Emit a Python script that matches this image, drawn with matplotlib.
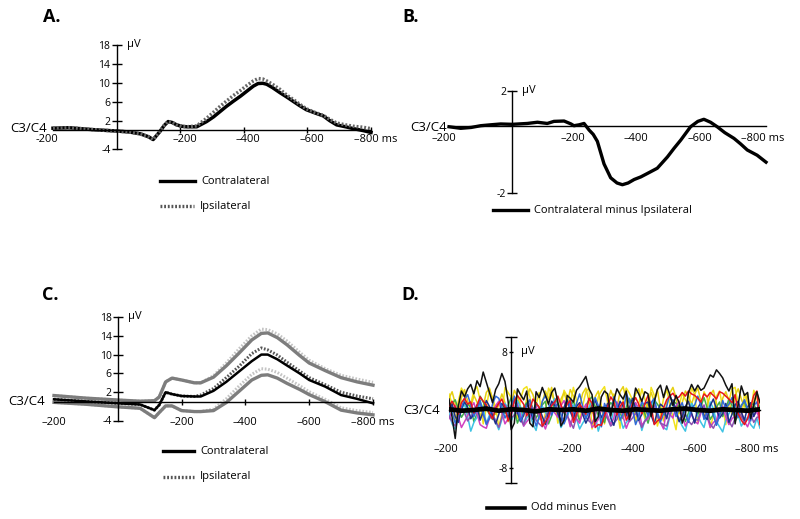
import numpy as np
import matplotlib
matplotlib.use('Agg')
import matplotlib.pyplot as plt
from matplotlib.lines import Line2D

plt.rcParams['font.family'] = ['Open Sans', 'DejaVu Sans']

# ---------------- data ----------------
# Panel A: grand averages at C3/C4 (uV)
tA = [-200, -150, -75, 0, 40, 75, 100, 115, 135, 150, 162, 175, 189, 205, 220, 252, 283, 305, 325, 345,
      367, 390, 409, 430, 445, 460, 472, 490, 514, 535, 555, 575, 597, 625, 650, 670, 692, 720, 745, 775, 800]
contra_A = [0.4, 0.5, 0.1, -0.2, -0.4, -0.8, -1.4, -2.0, -0.4, 1.0, 1.8, 1.6, 1.1, 0.8, 0.7, 0.7, 1.8, 2.8, 3.9, 5.0,
            6.1, 7.2, 8.2, 9.3, 9.85, 9.9, 9.7, 9.0, 7.9, 7.0, 6.1, 5.2, 4.3, 3.6, 3.0, 2.0, 1.1, 0.7, 0.3, -0.1, -0.5]
ipsi_A = [0.4, 0.5, 0.1, -0.2, -0.4, -0.8, -1.4, -2.0, -0.4, 1.0, 1.8, 1.6, 1.1, 0.8, 0.7, 0.9, 2.5, 3.8, 5.0, 6.1,
          7.3, 8.4, 9.4, 10.4, 10.9, 10.8, 10.4, 9.7, 8.6, 7.4, 6.5, 5.5, 4.5, 3.7, 3.1, 2.3, 1.5, 1.1, 0.8, 0.6, 0.3]

# Panel B: contralateral minus ipsilateral
tB = [-200, -163, -130, -100, -70, -37, 0, 47, 79, 110, 131, 163, 185, 194, 210, 226, 242, 255, 268, 289, 310,
      330, 347, 365, 384, 405, 426, 457, 489, 510, 531, 562, 585, 604, 625, 646, 670, 699, 720, 741, 772, 800]
diff_B = [-0.06, -0.15, -0.1, 0.0, 0.05, 0.1, 0.08, 0.13, 0.2, 0.13, 0.25, 0.27, 0.1, 0.0, 0.05, 0.13, -0.25, -0.5,
          -0.9, -2.2, -3.0, -3.3, -3.4, -3.3, -3.1, -2.95, -2.75, -2.45, -1.8, -1.3, -0.83, -0.06, 0.25, 0.37, 0.2,
          -0.06, -0.4, -0.73, -1.05, -1.4, -1.7, -2.1]

# Panel C: averages with confidence bounds
tC = [-200, -100, 0, 70, 115, 130, 150, 170, 200, 240, 260, 300, 340, 380, 420, 450, 470, 500, 530, 570, 600,
      650, 700, 750, 800]
contra_C = [0.5, 0.05, -0.35, -0.6, -1.8, -0.7, 2.0, 1.6, 1.2, 1.1, 1.1, 2.3, 4.2, 6.4, 8.6, 10.0, 10.0, 9.0, 7.7,
            6.0, 4.6, 3.2, 1.4, 0.6, -0.35]
ipsi_C = [0.5, 0.05, -0.35, -0.6, -1.8, -0.7, 2.0, 1.6, 1.2, 1.1, 1.4, 2.8, 5.1, 7.5, 10.2, 11.4, 11.0, 9.9, 8.4,
          6.5, 5.1, 3.6, 2.0, 1.2, 0.6]
contra_hi = [1.3, 0.75, 0.35, 0.1, 0.2, 1.0, 4.2, 5.0, 4.6, 4.0, 4.0, 5.2, 7.6, 10.3, 13.1, 14.5, 14.6, 13.6, 12.1,
             9.8, 8.2, 6.6, 5.1, 4.2, 3.5]
contra_lo = [-0.15, -0.55, -1.1, -1.4, -3.4, -2.3, -0.9, -0.9, -1.9, -2.1, -2.1, -1.9, -0.2, 2.2, 4.6, 5.6, 5.7,
             5.0, 3.9, 2.6, 1.5, 0.0, -1.8, -2.4, -2.8]
ipsi_hi = [1.3, 0.75, 0.35, 0.1, 0.2, 1.0, 4.2, 5.0, 4.6, 4.0, 4.0, 5.5, 8.2, 11.2, 14.0, 15.4, 15.3, 14.4, 12.9,
           10.5, 8.8, 7.0, 5.6, 4.8, 4.1]
ipsi_lo = [-0.15, -0.55, -1.1, -1.4, -3.4, -2.3, -0.9, -0.9, -1.9, -2.1, -2.1, -1.6, 0.6, 3.3, 5.8, 7.0, 6.9, 6.2,
           5.0, 3.4, 2.1, 0.5, -1.3, -1.9, -2.3]

# Panel D: odd minus even, single subjects (sampled every 10 ms, -200..800)
tD = np.arange(-200, 801, 10)
subj_black = [1.5, -1.0, -3.9, 0.5, 2.6, 1.8, 2.9, 3.5, 2.2, 4.0,
              3.2, 5.2, 3.8, 2.4, 1.0, 2.8, 3.6, 5.0, 3.9, 1.2,
              -2.7, -1.8, 2.9, 2.1, 1.4, 2.6, -1.8, -2.3, 2.5, 1.7,
              3.1, 2.0, 0.8, 2.4, 3.0, 1.1, -2.2, -1.4, 2.0, 1.6,
              1.1, 2.7, 3.2, 3.9, 4.6, 2.9, 2.1, -1.6, -0.9, 1.8,
              2.6, 2.2, -0.8, 1.3, 2.9, 2.1, 1.5, 2.6, -1.3, 0.4,
              3.0, 2.2, 1.2, 2.5, 2.2, -0.9, 1.1, 2.8, 3.4, 1.7,
              3.3, 2.1, 0.6, 2.0, 1.0, -1.8, -0.6, 2.4, 3.5, 2.6,
              3.4, 2.7, 3.0, 3.9, 4.8, 4.5, 5.5, 5.0, 4.4, 3.4,
              2.6, 3.6, -1.9, 0.8, 3.3, 2.0, 2.4, -1.2, 0.7, 2.5,
              1.0]
subj_yellow = [2.2, 0.8, -1.5, 1.2, 3.0, 2.1, -0.8, 0.9, 2.6, 3.2,
               1.4, -1.9, 0.3, 2.8, 1.6, 0.4, -2.3, -0.6, 3.1, 2.4,
               1.7, 0.2, -1.2, 1.5, 2.9, 3.2, 1.8, -0.6, 0.7, 2.4,
               -2.1, -0.4, 3.0, 2.2, 1.2, -1.8, 0.5, 2.7, 1.9, 0.9,
               3.1, 1.3, -1.4, 0.6, 2.5, 3.0, -2.6, -0.9, 1.8, 2.6,
               3.2, 1.1, -0.9, 2.2, 0.4, -2.5, 1.3, 3.0, 2.3, 1.4,
               -1.7, 0.8, 2.9, 1.5, -0.3, 3.1, 2.0, -2.2, -0.7, 1.6,
               2.8, 0.9, -1.0, -2.7, 0.6, 2.3, 1.4, 0.8, 3.0, 2.1,
               -1.6, 0.4, 2.5, 1.7, -2.4, -0.8, 1.9, 2.6, 0.3, -2.0,
               1.2, 2.9, 3.1, 0.7, -1.3, 2.2, 1.0, -0.5, 2.7, 1.8,
               -2.0]
subj_gold = [1.6, 2.5, 0.9, -0.8, 1.7, 2.8, 1.2, 0.3, 2.0, 1.1,
             -1.0, 0.5, 2.4, 3.0, 1.5, -0.6, 0.8, 2.2, 1.0, -1.6,
             0.6, 2.7, 1.9, 0.4, -0.9, 1.6, 2.9, 2.1, 0.5, -1.3,
             1.1, 2.6, 1.4, 3.1, 0.7, -1.1, 1.5, 2.4, 0.9, 2.8,
             1.9, -0.7, 0.6, 2.3, 3.0, 1.2, -0.4, 1.8, 2.6, 0.5,
             -1.9, 1.0, 2.7, 1.6, 0.3, 2.5, 3.2, 1.4, -0.8, 0.9,
             2.2, 2.9, 0.6, -1.2, 1.3, 2.4, 1.1, 2.8, 0.2, -1.5,
             0.9, 2.3, 3.1, 1.7, -0.5, 1.0, 2.6, 1.9, 0.8, 2.2,
             3.0, 1.2, -1.1, 0.5, 2.1, 2.7, 0.9, -0.9, 1.6, 2.5,
             1.3, -0.6, 2.0, 2.9, 1.5, 0.4, 2.3, -1.0, 1.2, 2.4,
             0.8]
subj_red = [0.5, 1.2, 0.4, -0.6, 1.0, 1.6, 0.8, 1.1, -0.4, 0.6,
            1.8, 1.2, 0.7, -0.5, -1.2, 0.2, 0.9, 1.5, 0.3, -1.5,
            -0.4, 1.2, 2.0, 1.4, 0.8, -0.8, 0.1, 1.5, 0.9, 0.4,
            -2.2, -1.6, -0.9, 0.6, 1.1, 1.9, 0.7, -0.3, 0.8, 1.3,
            -1.7, -0.5, 0.8, 0.2, -0.6, 1.6, 0.9, -2.4, -2.0, -2.1,
            -0.8, 0.4, 1.8, 1.1, -0.7, 0.5, 1.1, -1.4, -0.6, 0.9,
            1.7, 0.8, -0.5, 0.9, 2.0, 0.6, -2.0, -1.5, -1.2, 0.3,
            1.4, 1.9, 2.3, 1.6, 1.8, 2.4, 1.9, 2.6, 2.2, 2.0,
            1.6, 1.1, 2.2, 1.8, 2.4, 2.0, 1.5, 2.5, 2.3, 1.9,
            1.5, 1.0, 2.1, -0.5, -1.4, -2.0, -1.2, 0.4, 2.0, 2.6,
            -2.0]
subj_blue = [1.0, -0.3, -1.8, -0.6, 0.4, 1.5, 2.1, 0.7, -0.9, 0.2,
             1.3, -0.5, -2.0, -1.1, 0.8, 1.9, 1.6, 0.3, -1.1, -0.2,
             0.2, 1.9, 0.6, -1.5, -0.4, 0.6, 1.4, -0.8, -2.2, -0.9,
             1.2, 2.0, 0.9, -0.7, 0.3, 0.9, -0.6, -1.9, -0.8, 1.5,
             -0.4, 0.9, 2.2, 0.5, -1.2, -0.2, 0.3, 1.7, 0.6, -2.3,
             0.9, -0.1, -0.6, 1.8, 0.7, -1.4, -0.5, 2.3, 1.1, 0.1,
             -2.0, -0.9, 1.2, 0.4, -0.8, 1.0, 1.6, -0.3, -1.6, -0.5,
             0.5, 2.1, 0.8, -0.9, 0.2, 1.0, -0.6, -1.7, 0.3, 0.7,
             1.9, 0.6, -1.3, -0.2, 0.4, -0.7, -2.1, -0.8, 1.3, 0.2,
             0.8, 1.7, -0.4, -1.0, 0.5, 1.4, 0.2, -1.5, 0.6, 1.1,
             -1.0]
subj_navy = [-0.3, 0.8, -0.9, -1.7, 0.2, 1.1, 0.4, -1.2, -0.5, 0.7,
             -1.4, -0.2, 1.3, 0.5, -0.8, -1.9, -0.6, 0.9, 0.2, -1.1,
             0.6, 1.5, -0.3, -1.6, -0.7, 0.8, 0.1, -1.3, 1.0, 0.3,
             -0.9, -2.0, -0.4, 1.2, 0.6, -0.5, -1.5, 0.4, 1.4, -0.2,
             -1.3, 0.5, 1.0, -0.6, -1.8, -0.9, 0.7, 1.3, 0.2, -1.0,
             -0.4, 0.9, -1.1, -2.1, -0.3, 1.2, 0.5, -0.8, 0.3, 1.6,
             0.2, -1.4, -0.6, 0.9, 1.1, -0.7, -1.9, -0.2, 0.8, 0.4,
             -1.2, 0.6, 1.4, -0.1, -1.6, -0.9, 0.5, 1.2, -0.4, -1.8,
             0.3, 1.0, -0.8, -1.3, 0.6, 1.5, 0.1, -1.1, -0.5, 0.9,
             -1.7, -0.6, 0.7, 1.2, -0.3, -1.4, 0.4, 1.0, -0.9, 0.2,
             -0.6]
subj_cyan = [-0.5, -1.9, -2.6, -1.2, 0.1, 0.8, -0.9, -2.9, -1.7, -1.0,
             1.1, 0.2, -1.8, -0.7, -0.4, -1.6, -2.7, -1.3, 0.9, 0.3,
             -1.5, -0.6, 1.3, 0.4, -2.2, -1.1, -0.6, -1.9, -2.8, -0.8,
             0.5, -0.3, -1.4, 0.7, 1.6, -0.5, -2.4, -1.6, -0.9, 0.2,
             0.7, -1.2, -2.6, -1.8, -1.1, 0.4, 1.2, -0.6, -2.9, -1.5,
             -0.3, -0.9, -1.9, 0.1, 0.8, -1.0, -2.5, -1.7, -1.2, 0.3,
             1.0, -0.8, -2.8, -1.4, -0.7, 0.6, 1.4, -0.5, -1.8, -2.4,
             -2.7, -0.9, 0.3, -0.6, -1.3, -2.2, -2.9, -1.1, 0.9, 0.1,
             -0.8, -1.7, -2.4, -0.6, 1.1, 0.2, -1.6, -2.3, -3.0, -1.4,
             -0.5, 0.3, 0.8, -0.7, -2.2, -1.5, -1.0, -2.0, -2.5, -1.1,
             -2.5]
subj_magenta = [-1.2, -0.2, 0.6, -1.0, -2.4, -1.6, -0.8, 0.3, 1.0, -0.5,
                -2.0, -2.3, -2.5, -1.1, -0.3, 0.6, 1.2, -0.4, -1.9, -1.2,
                -0.7, 0.4, 0.9, -0.8, -2.2, -1.6, -1.1, 0.1, 0.5, -0.9,
                -1.6, -2.6, -1.3, 0.2, -0.4, -1.0, 0.6, 1.3, -0.5, -2.3,
                -0.5, -1.2, -1.8, -0.2, 0.8, -0.6, -2.4, -1.9, -1.3, 0.1,
                0.4, -0.8, -2.0, -1.1, 1.1, 0.3, -0.9, -2.5, -1.4, -0.2,
                1.0, 0.2, -2.1, -1.5, -1.2, -0.1, 0.6, -0.9, -1.7, -2.6,
                0.3, -0.6, -1.1, 0.5, 1.2, -0.8, -2.2, -1.3, -0.6, -1.5,
                -1.9, -0.4, 0.7, -0.9, -2.4, -1.7, -1.4, 0.2, 0.5, -1.0,
                -2.0, -1.2, -0.8, 0.4, -0.3, -1.6, -2.3, -1.1, -0.8, -0.2,
                -1.6]
subj_purple = [-0.8, -1.6, -2.2, -0.7, 0.5, -0.4, -1.5, -0.9, -0.2, 0.4,
               1.0, -0.6, -1.8, -1.2, -0.6, -1.5, -2.4, -1.0, 0.7, 0.1,
               -1.1, -0.7, -0.3, -1.4, -2.0, -0.5, 0.9, 0.2, -1.4, -1.9,
               -2.3, -1.0, -0.1, 0.6, 1.2, -0.4, -1.7, -1.1, -0.8, -1.6,
               -2.5, -0.9, 0.4, -0.3, -1.0, -1.5, -1.9, -0.7, 0.6, 0.1,
               -0.5, -1.2, -2.2, -1.8, -1.3, 0.0, 0.8, -0.4, -1.6, -1.1,
               -0.4, -1.4, -2.4, -1.5, -0.9, 0.1, 0.5, -0.8, -1.8, -2.0,
               -2.2, -0.7, 0.3, -0.5, -1.2, -0.9, -0.6, -1.5, -2.0, -1.3,
               -1.4, -0.2, 0.6, -0.8, -1.9, -2.5, -1.6, -0.7, 0.4, -0.3,
               -1.5, -2.3, -1.1, -0.2, -0.9, -1.7, -1.2, -0.6, -1.7, -1.0,
               -0.9]
subj_green = [0.3, 0.9, 1.4, 0.1, -1.0, -0.3, 0.8, 0.4, -1.6, -0.5,
              1.9, 1.1, 0.2, -0.6, -1.3, 0.1, 1.1, 0.4, -0.5, 0.6,
              1.7, 0.2, -1.8, -0.7, 0.4, 1.0, 1.3, 0.2, -1.1, -0.3,
              0.7, 1.2, -1.9, -0.8, 1.5, 0.9, 0.1, -0.4, -0.9, 0.5,
              1.2, -0.1, -1.5, -0.4, 0.6, 1.4, 1.8, 0.5, -0.7, -1.2,
              -1.7, 0.2, 1.0, 0.6, 0.3, -0.5, -1.2, 0.4, 1.6, 0.7,
              -0.4, 0.3, 0.8, -0.6, -1.8, -0.2, 1.4, 0.8, 0.2, -0.5,
              -1.0, 0.4, 1.3, 0.9, 0.5, -0.3, -1.6, -0.4, 0.9, 0.2,
              -0.6, 0.5, 1.7, 0.3, -1.3, -0.6, 0.4, 1.1, -0.9, 0.2,
              1.5, 0.6, -1.5, -0.8, 0.7, 1.1, -0.3, 0.6, 0.9, -0.3,
              0.6]
tD_mean = np.linspace(-200, 800, 26)
odd_even_mean = [0.1, -0.1, 0.0, 0.2, -0.1, 0.1, 0.0, -0.2, 0.1, 0.0, 0.1, -0.1, 0.2, 0.0, -0.1, 0.1, 0.0, -0.1,
                 0.1, 0.2, 0.0, -0.1, 0.1, 0.0, -0.1, 0.1]

W, H = 800, 519
fig = plt.figure(figsize=(8, 5.19), dpi=100)
PT = 0.72  # points per pixel at dpi 100


def rect(x0, x1, y0, y1):
    return [x0 / W, 1 - y1 / H, (x1 - x0) / W, (y1 - y0) / H]


def setup(ax, ylim, yticks, ylabels, xtick_len):
    ax.set_xlim(-200, 800)
    ax.set_ylim(*ylim)
    ax.patch.set_visible(False)
    ax.spines['top'].set_visible(False)
    ax.spines['right'].set_visible(False)
    ax.spines['left'].set_position(('data', 0))
    ax.spines['bottom'].set_position(('data', 0))
    ax.spines['left'].set_bounds(*ylim)
    for s in ['left', 'bottom']:
        ax.spines[s].set_linewidth(1.0)
    ax.set_yticks(yticks)
    ax.set_yticklabels(ylabels)
    ax.tick_params(axis='y', direction='inout', length=7, width=1, labelsize=7.5, pad=1)
    ax.set_xticks([200, 400, 600, 800])
    ax.set_xticklabels([])
    ax.tick_params(axis='x', direction='inout', length=xtick_len, width=1)


def xlabels(ax, first, dy_px, dx_first, dx_rest):
    labs = [first, '\u2013200', '\u2013400', '\u2013600', '\u2013800 ms']
    for i, (t, s) in enumerate(zip([-200, 200, 400, 600, 800], labs)):
        dx = dx_first if i == 0 else dx_rest
        ax.annotate(s, (t, 0), xytext=(dx * PT, -dy_px * PT), textcoords='offset points',
                    ha='center', va='center', fontsize=8, annotation_clip=False)


def uv_label(ax, y):
    ax.annotate('\u00b5V', (0, y), xytext=(10 * PT, 0), textcoords='offset points',
                ha='left', va='center', fontsize=8, annotation_clip=False)


def legend_line(x0, x1, y, text, **kw):
    fig.add_artist(Line2D([x0 / W, x1 / W], [1 - y / H, 1 - y / H], transform=fig.transFigure, **kw))
    fig.text((x1 + 6) / W, 1 - y / H, text, ha='left', va='center', fontsize=8)


dotted = (0, (0.55, 0.55))

# ---------------- A ----------------
axA = fig.add_axes(rect(53, 371, 45, 149))
setup(axA, (-4, 18), [-4, 2, 6, 10, 14, 18], ['-4', '2', '6', '10', '14', '18'], 5)
axA.plot(tA, contra_A, color='black', lw=2.5, clip_on=False)
axA.plot(tA, ipsi_A, color='#666666', lw=2.5, ls=dotted, clip_on=False)
xlabels(axA, '-200', 9, -6, 4.5)
uv_label(axA, 18)
fig.text(47 / W, 1 - 128 / H, 'C3/C4', ha='right', va='center', fontsize=9.5)
fig.text(43 / W, 1 - 17 / H, 'A.', ha='left', va='center', fontsize=13, fontweight='bold')
legend_line(160, 195, 181, 'Contralateral', color='black', lw=2.4)
legend_line(160, 194, 206, 'Ipsilateral', color='#555555', lw=2.4, ls=dotted)

# ---------------- B ----------------
axB = fig.add_axes(rect(449, 766, 91, 193.4))
setup(axB, (-3.9, 2), [-3.9, 2], ['-2', '2'], 0)
axB.plot(tB, diff_B, color='black', lw=2.4, clip_on=False)
xlabels(axB, '\u2013200', 12.5, -5, -3)
uv_label(axB, 2)
fig.text(447 / W, 1 - 127.5 / H, 'C3/C4', ha='right', va='center', fontsize=9.5)
fig.text(402 / W, 1 - 17 / H, 'B.', ha='left', va='center', fontsize=13, fontweight='bold')
legend_line(493, 528, 210, 'Contralateral minus Ipsilateral', color='black', lw=2.4)

# ---------------- C ----------------
axC = fig.add_axes(rect(54, 373, 316.9, 420.5))
setup(axC, (-4, 18), [-4, 2, 6, 10, 14, 18], ['-4', '2', '6', '10', '14', '18'], 5)
axC.plot(tC, ipsi_hi, color='#c4c4c4', lw=2.2, ls=dotted, clip_on=False)
axC.plot(tC, ipsi_lo, color='#c4c4c4', lw=2.2, ls=dotted, clip_on=False)
axC.plot(tC, contra_hi, color='#7d7d7d', lw=2.4, clip_on=False)
axC.plot(tC, contra_lo, color='#7d7d7d', lw=2.4, clip_on=False)
axC.plot(tC, ipsi_C, color='#555555', lw=2.2, ls=dotted, clip_on=False)
axC.plot(tC, contra_C, color='black', lw=1.8, clip_on=False)
xlabels(axC, '\u2013200', 21, 0, 0)
uv_label(axC, 18)
fig.text(45 / W, 1 - 401.7 / H, 'C3/C4', ha='right', va='center', fontsize=9.5)
fig.text(42 / W, 1 - 295 / H, 'C.', ha='left', va='center', fontsize=13, fontweight='bold')
legend_line(163, 194, 451, 'Contralateral', color='black', lw=2.4)
legend_line(163, 194, 477, 'Ipsilateral', color='#555555', lw=2.4, ls=dotted)

# ---------------- D ----------------
axD = fig.add_axes(rect(449, 760, 337, 483))
setup(axD, (-10, 10), [-10, -8, 8, 10], ['', '-8', '8', ''], 0)
axD.tick_params(axis='y', length=3)
for tk in axD.yaxis.get_major_ticks():
    if abs(tk.get_loc()) == 10:
        tk.tick1line.set_markersize(8)
subjects = [(subj_yellow, '#f2e21c'), (subj_gold, '#e6cf10'), (subj_green, '#3fae49'),
            (subj_cyan, '#3ec3e4'), (subj_magenta, '#d040c0'), (subj_purple, '#8a52b0'),
            (subj_navy, '#1c2f8a'), (subj_blue, '#2f6ad8'), (subj_red, '#e8141c'), (subj_black, '#111111')]
for vals, col in subjects:
    axD.plot(tD, vals, color=col, lw=1.1)
axD.plot(tD_mean, odd_even_mean, color='black', lw=3.4)
xlabels(axD, '\u2013200', 39, -3, -3)
uv_label(axD, 8)
fig.text(440 / W, 1 - 410 / H, 'C3/C4', ha='right', va='center', fontsize=9.5)
fig.text(401 / W, 1 - 295 / H, 'D.', ha='left', va='center', fontsize=13, fontweight='bold')
legend_line(487, 525, 508, 'Odd minus Even', color='black', lw=2.6)

fig.savefig('out.png', dpi=100)
